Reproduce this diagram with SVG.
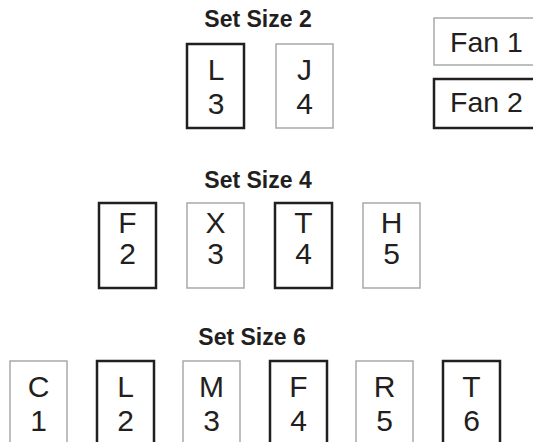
<svg xmlns="http://www.w3.org/2000/svg" width="533" height="442" viewBox="0 0 533 442">
  <style>
    .title { font-family: "Liberation Sans", Arial, sans-serif; font-weight: bold; font-size: 23px; fill: #231f20; text-anchor: middle; }
    .lbl { font-family: "Liberation Sans", Arial, sans-serif; font-size: 30px; fill: #231f20; text-anchor: middle; }
    .fan { font-family: "Liberation Sans", Arial, sans-serif; font-size: 28.5px; fill: #231f20; }
    .dark { fill: #ffffff; stroke: #231f20; stroke-width: 2.5; }
    .light { fill: #ffffff; stroke: #a7a9ac; stroke-width: 1.5; }
  </style>
  <rect width="533" height="442" fill="#ffffff"/>

  <!-- legend -->
  <g id="fan1">
    <rect class="light" x="434" y="18" width="110" height="47"/>
    <text class="fan" x="450" y="52">Fan 1</text>
  </g>
  <g id="fan2">
    <rect class="dark" x="434" y="79" width="110" height="49"/>
    <text class="fan" x="450" y="112">Fan 2</text>
  </g>

  <!-- set size 2 -->
  <text class="title" x="258" y="27">Set Size 2</text>
  <g id="s2-L3">
    <rect class="dark" x="187" y="44" width="57" height="84"/>
    <text class="lbl" x="216" y="80">L</text>
    <text class="lbl" x="216" y="114">3</text>
  </g>
  <g id="s2-J4">
    <rect class="light" x="276" y="44" width="57" height="84"/>
    <text class="lbl" x="304.5" y="80">J</text>
    <text class="lbl" x="304.5" y="114">4</text>
  </g>

  <!-- set size 4 -->
  <text class="title" x="258" y="188">Set Size 4</text>
  <g id="s4-F2">
    <rect class="dark" x="99" y="203" width="57" height="85"/>
    <text class="lbl" x="127.5" y="233">F</text>
    <text class="lbl" x="127.5" y="264">2</text>
  </g>
  <g id="s4-X3">
    <rect class="light" x="187" y="203" width="57" height="85"/>
    <text class="lbl" x="215.5" y="233">X</text>
    <text class="lbl" x="215.5" y="264">3</text>
  </g>
  <g id="s4-T4">
    <rect class="dark" x="275" y="203" width="57" height="85"/>
    <text class="lbl" x="303.5" y="233">T</text>
    <text class="lbl" x="303.5" y="264">4</text>
  </g>
  <g id="s4-H5">
    <rect class="light" x="363" y="203" width="57" height="85"/>
    <text class="lbl" x="391.5" y="233">H</text>
    <text class="lbl" x="391.5" y="264">5</text>
  </g>

  <!-- set size 6 -->
  <text class="title" x="252" y="345">Set Size 6</text>
  <g id="s6-C1">
    <rect class="light" x="10" y="361" width="57" height="90"/>
    <text class="lbl" x="38.5" y="397">C</text>
    <text class="lbl" x="38.5" y="431">1</text>
  </g>
  <g id="s6-L2">
    <rect class="dark" x="97" y="361" width="57" height="90"/>
    <text class="lbl" x="125.5" y="397">L</text>
    <text class="lbl" x="125.5" y="431">2</text>
  </g>
  <g id="s6-M3">
    <rect class="light" x="183" y="361" width="57" height="90"/>
    <text class="lbl" x="211.5" y="397">M</text>
    <text class="lbl" x="211.5" y="431">3</text>
  </g>
  <g id="s6-F4">
    <rect class="dark" x="270" y="361" width="57" height="90"/>
    <text class="lbl" x="298.5" y="397">F</text>
    <text class="lbl" x="298.5" y="431">4</text>
  </g>
  <g id="s6-R5">
    <rect class="light" x="356" y="361" width="57" height="90"/>
    <text class="lbl" x="384.5" y="397">R</text>
    <text class="lbl" x="384.5" y="431">5</text>
  </g>
  <g id="s6-T6">
    <rect class="dark" x="443" y="361" width="57" height="90"/>
    <text class="lbl" x="471.5" y="397">T</text>
    <text class="lbl" x="471.5" y="431">6</text>
  </g>

  <g id="connectors"/>
</svg>
